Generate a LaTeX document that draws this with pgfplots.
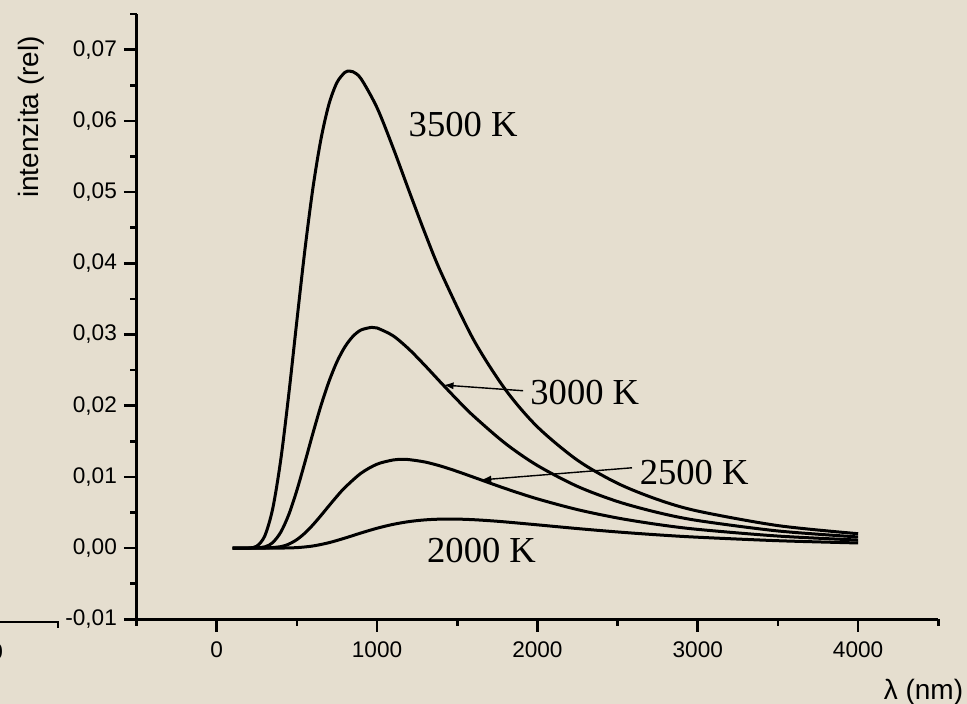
\documentclass[border=0pt]{standalone}
\usepackage{fontspec}
\setmainfont{Liberation Sans}
\newfontfamily\tms{Liberation Serif}
\usepackage{pgfplots}
\pgfplotsset{compat=1.18}
\usetikzlibrary{arrows.meta}

\definecolor{bg}{RGB}{229,222,207}

\begin{document}
\begin{tikzpicture}
\useasboundingbox (-68.25pt,-42.35pt) rectangle (415.25pt,309.65pt);
\fill[bg] (-68.25pt,-42.35pt) rectangle (415.25pt,309.65pt);
\clip (-68.25pt,-42.35pt) rectangle (415.25pt,309.65pt);

% piece of a neighbouring graph at the left edge
\draw[line width=1.2pt] (-70pt,-1.4pt) -- (-39.2pt,-1.4pt) -- (-39.2pt,-4.6pt);
\node[anchor=east, inner sep=0pt, font=\fontsize{11.3}{13}\selectfont] at (-66.6pt,-16.4pt) {0};

\begin{axis}[
  at={(0,0)}, anchor=south west,
  scale only axis,
  width=400.9pt, height=302.6pt,
  xmin=-500, xmax=4500,
  ymin=-0.01, ymax=0.075,
  axis lines=left,
  axis line style={-, line width=1.3pt},
  tick align=outside,
  major tick length=6.3pt,
  minor tick length=3.2pt,
  every tick/.style={black, line width=1.3pt},
  xtick={0,1000,2000,3000,4000},
  minor xtick={-500,500,1500,2500,3500,4500},
  ytick={-0.01,0,0.01,0.02,0.03,0.04,0.05,0.06,0.07},
  minor ytick={-0.005,0.005,0.015,0.025,0.035,0.045,0.055,0.065,0.075},
  scaled y ticks=false,
  scaled x ticks=false,
  tick label style={font=\fontsize{11.3}{13}\selectfont},
  /pgf/number format/assume math mode=true,
  xticklabel style={/pgf/number format/1000 sep={}, yshift=-1.2pt},
  yticklabel style={/pgf/number format/fixed, /pgf/number format/fixed zerofill,
    /pgf/number format/precision=2, /pgf/number format/use comma},
  xlabel={λ (nm)},
  ylabel={intenzita (rel)},
  every axis x label/.style={at={(axis description cs:1.0315,-0.120)}, anchor=east,
    inner sep=0pt, font=\fontsize{14}{16}\selectfont},
  every axis y label/.style={at={(axis description cs:-0.1316,0.830)}, rotate=90,
    anchor=center, inner sep=0pt, font=\fontsize{14}{16}\selectfont},
  clip=false,
]

% 3500 K
\addplot[black, line width=1.5pt, smooth] coordinates {
(100,0) (200,0.0000138) (250,0.000274) (300,0.00171) (350,0.0056)
(400,0.01247) (450,0.02169) (500,0.03192) (550,0.04186) (600,0.05054)
(650,0.05741) (700,0.06234) (750,0.06539) (800,0.06682) (828,0.0670)
(850,0.0669) (900,0.06593) (1000,0.06185) (1100,0.05623) (1200,0.05014)
(1300,0.04418) (1400,0.03866) (1600,0.02935) (1800,0.02228) (2000,0.01703)
(2250,0.01234) (2500,0.009096) (2750,0.006822) (3000,0.0052) (3500,0.003159)
(4000,0.00202)
};

% 3000 K
\addplot[black, line width=1.5pt, smooth] coordinates {
(100,0) (200,0) (300,0.000174) (350,0.00079) (400,0.00225)
(450,0.00473) (500,0.00811) (550,0.01204) (600,0.01612) (650,0.01999)
(700,0.02338) (750,0.02617) (800,0.02828) (850,0.02975) (900,0.03063)
(966,0.0310) (1000,0.03092) (1100,0.02982) (1200,0.02792) (1300,0.02562)
(1400,0.0232) (1500,0.02083) (1600,0.01859) (1800,0.0147) (2000,0.0116)
(2250,0.008664) (2500,0.00654) (2750,0.004999) (3000,0.00387) (3500,0.002406)
(4000,0.001564)
};

% 2500 K
\addplot[black, line width=1.5pt, smooth] coordinates {
(100,0) (200,0) (300,0.000007) (400,0.000204) (450,0.000561)
(500,0.001191) (550,0.002105) (600,0.003258) (650,0.004568) (700,0.005936)
(750,0.007275) (800,0.008513) (900,0.010515) (1000,0.011788) (1100,0.012377)
(1159,0.01247) (1200,0.012426) (1300,0.012087) (1400,0.0115) (1500,0.01077)
(1600,0.009972) (1800,0.008369) (2000,0.006914) (2250,0.005404) (2500,0.004225)
(2750,0.00332) (3000,0.002629) (3500,0.001691) (4000,0.001127)
};

% 2000 K
\addplot[black, line width=1.5pt, smooth] coordinates {
(100,0) (200,0) (300,0) (400,0.0000056) (500,0.000067)
(600,0.000296) (700,0.00076) (800,0.001408) (900,0.002123) (1000,0.002789)
(1100,0.003333) (1200,0.003725) (1300,0.003965) (1400,0.004071) (1500,0.004072)
(1600,0.003991) (1700,0.003852) (1800,0.003677) (2000,0.003268) (2250,0.002742)
(2500,0.002266) (2750,0.001861) (3000,0.001527) (3500,0.001037) (4000,0.000719)
};

\node[anchor=west, inner sep=0pt, font=\tms\fontsize{18.3}{20}\selectfont] at (axis cs:1195,0.05943) {3500 K};
\node[anchor=west, inner sep=0pt, font=\tms\fontsize{18.3}{20}\selectfont] at (axis cs:1954,0.02186) {3000 K};
\node[anchor=west, inner sep=0pt, font=\tms\fontsize{18.3}{20}\selectfont] at (axis cs:2636,0.01055) {2500 K};
\node[anchor=west, inner sep=0pt, font=\tms\fontsize{18.3}{20}\selectfont] at (axis cs:1310,-0.00027) {2000 K};

\draw[-{Latex[length=5pt,width=3.6pt]}, line width=0.7pt] (axis cs:1911,0.0221) -- (axis cs:1415,0.0229);
\draw[-{Latex[length=5pt,width=3.6pt]}, line width=0.7pt] (axis cs:2590,0.01128) -- (axis cs:1650,0.00958);
\end{axis}
\end{tikzpicture}
\end{document}
